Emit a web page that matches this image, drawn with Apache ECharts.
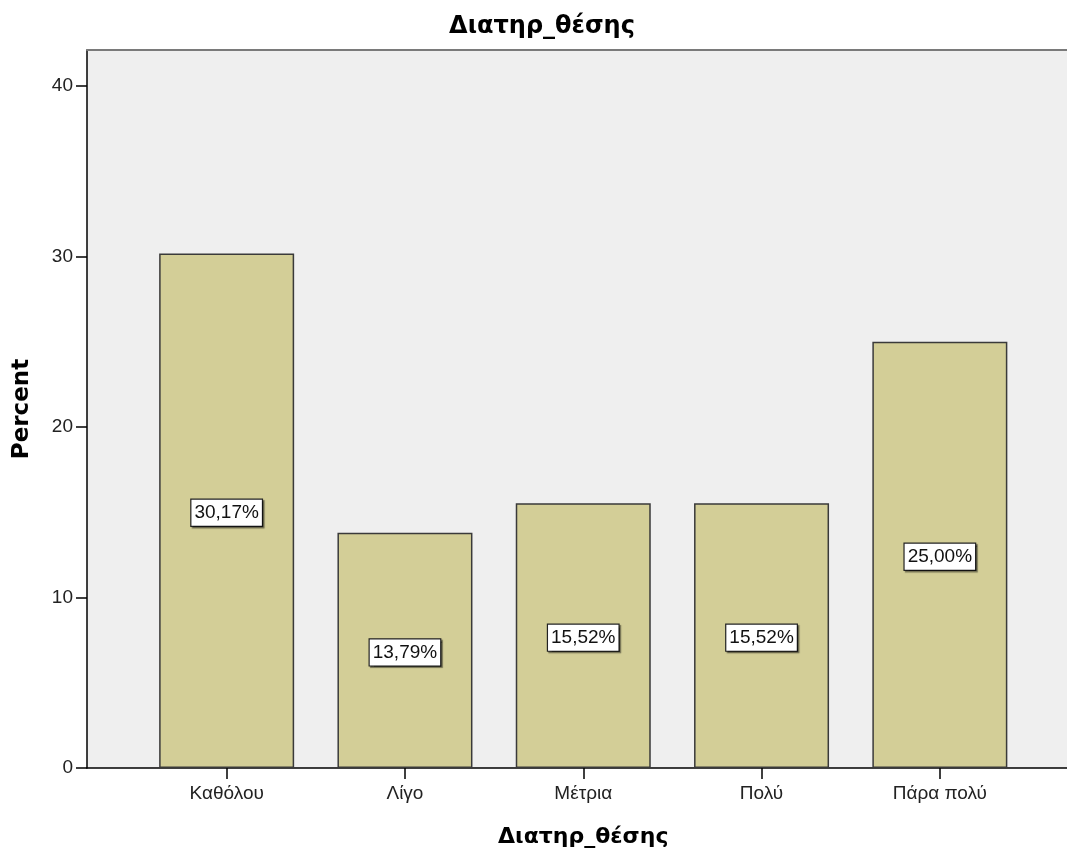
<!DOCTYPE html>
<html>
<head>
<meta charset="utf-8">
<script src="https://cdn.jsdelivr.net/npm/echarts@6/dist/echarts.min.js"></script>
<style>
  html, body { margin: 0; padding: 0; background: #ffffff; }
  #chart { width: 1067px; height: 850px; }
</style>
</head>
<body>
<div id="chart"></div>
<script>
// Response categories and their share of answers (percent)
const categories = ['Καθόλου', 'Λίγο', 'Μέτρια', 'Πολύ', 'Πάρα πολύ'];
const percents = [30.17, 13.79, 15.52, 15.52, 25.00];
const yTicks = [0, 10, 20, 30, 40];

const titleText = 'Διατηρ_θέσης';
const xName = 'Διατηρ_θέσης';
const yName = 'Percent';

const FONT = '"Liberation Sans", Arial, sans-serif';
const BOLD_FONT = '"DejaVu Sans", "Liberation Sans", sans-serif';
const Y_MAX = 42.1;
const TOP = 50, BOTTOM = 82;

const chart = echarts.init(document.getElementById('chart'), null, { renderer: 'canvas' });

chart.setOption({
  animation: false,
  backgroundColor: '#ffffff',
  title: {
    text: titleText,
    left: 537,
    textAlign: 'center',
    top: 10,
    textStyle: { fontFamily: BOLD_FONT, fontSize: 24, fontWeight: 'bold', color: '#000' }
  },
  grid: [
    // frame: shaded plot background with the value axis
    { left: 87, right: 0, top: TOP, bottom: BOTTOM, show: true, backgroundColor: '#efefef', borderWidth: 0, outerBoundsMode: 'none', containLabel: false },
    // inner band area holding the bars
    { left: 137.5, right: 38, top: TOP, bottom: BOTTOM, outerBoundsMode: 'none', containLabel: false }
  ],
  xAxis: [
    {
      gridIndex: 0, type: 'value', min: 0, max: 1, position: 'bottom',
      axisLine: { show: true, lineStyle: { color: '#000', width: 1.5 } },
      axisTick: { show: false }, axisLabel: { show: false }, splitLine: { show: false }
    },
    {
      gridIndex: 0, type: 'value', min: 0, max: 1, position: 'top',
      axisLine: { show: true, lineStyle: { color: '#7a7a7a', width: 2 } },
      axisTick: { show: false }, axisLabel: { show: false }, splitLine: { show: false }
    },
    {
      gridIndex: 1, type: 'category', data: categories, position: 'bottom',
      axisLine: { show: false },
      axisTick: { show: true, alignWithLabel: true, length: 11, lineStyle: { color: '#000', width: 1.5 } },
      axisLabel: { margin: 16, fontFamily: FONT, fontSize: 19, color: '#222' },
      name: xName, nameLocation: 'middle', nameGap: 58,
      nameTextStyle: { fontFamily: BOLD_FONT, fontSize: 22, fontWeight: 'bold', color: '#000' }
    }
  ],
  yAxis: [
    {
      gridIndex: 0, type: 'value', min: 0, max: Y_MAX,
      axisLine: { show: true, lineStyle: { color: '#000', width: 1.5 } },
      axisTick: { show: true, length: 11, customValues: yTicks, lineStyle: { color: '#000', width: 1.5 } },
      axisLabel: { margin: 14, customValues: yTicks, fontFamily: FONT, fontSize: 19, color: '#222' },
      splitLine: { show: false },
      name: yName, nameLocation: 'middle', nameGap: 53, nameRotate: 90,
      nameTextStyle: { fontFamily: BOLD_FONT, fontSize: 23, fontWeight: 'bold', color: '#000' }
    },
    {
      gridIndex: 1, type: 'value', min: 0, max: Y_MAX, show: false
    }
  ],
  series: [
    {
      type: 'bar',
      xAxisIndex: 2,
      yAxisIndex: 1,
      data: percents,
      barWidth: 135,
      itemStyle: { color: '#d3ce97', borderColor: '#3a3a3a', borderWidth: 1.5 },
      label: {
        show: true,
        position: 'inside',
        offset: [0, 2],
        formatter: p => p.value.toFixed(2).replace('.', ',') + '%',
        fontFamily: FONT, fontSize: 19, color: '#111',
        backgroundColor: '#ffffff',
        borderColor: '#222', borderWidth: 1.2,
        padding: [4, 3, 3, 3],
        shadowColor: 'rgba(0,0,0,0.45)', shadowOffsetX: 1.5, shadowOffsetY: 1.5, shadowBlur: 1
      }
    }
  ]
});
</script>
</body>
</html>
